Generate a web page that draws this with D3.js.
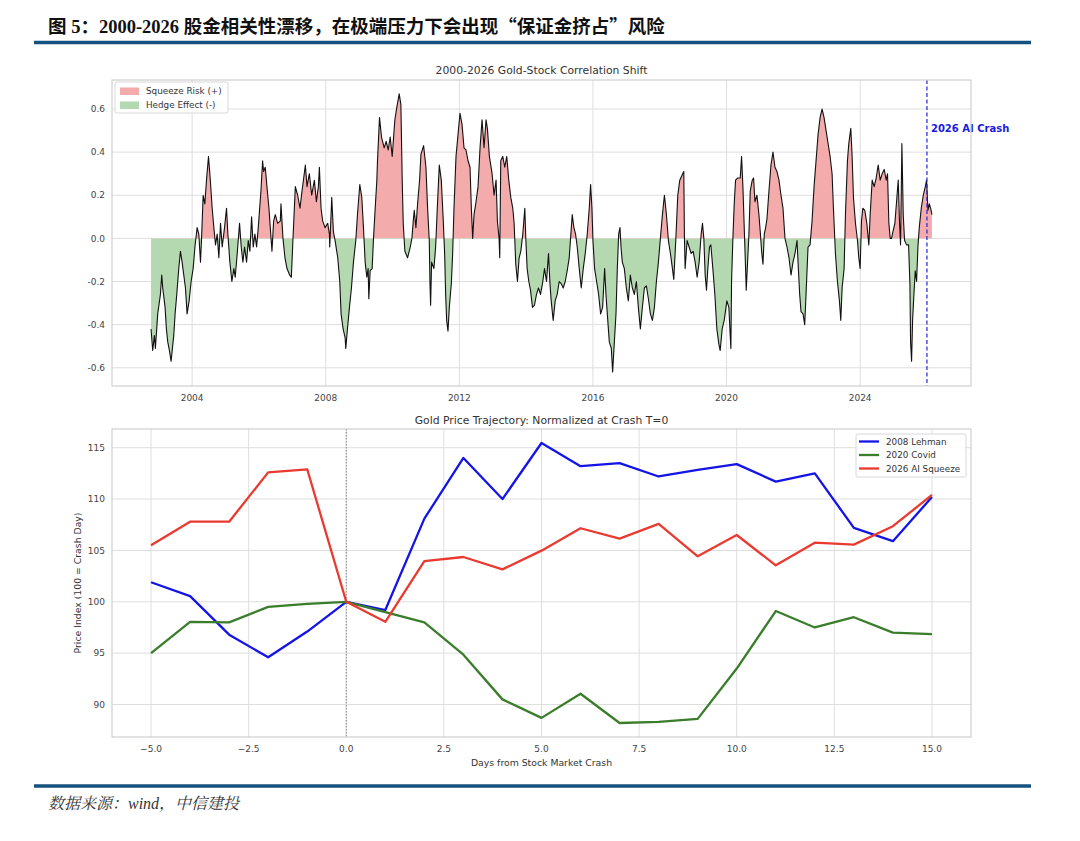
<!DOCTYPE html>
<html><head><meta charset="utf-8">
<script src="https://cdn.jsdelivr.net/npm/d3@7"></script>
<style>
body{margin:0;background:#fff}
svg text{font-family:"DejaVu Sans",sans-serif}
</style>
</head><body>
<svg id="c" width="1080" height="841"></svg>
<script>
// ---------------- DATA ----------------
const headerParts = ["图 5：2000-2026 股金相关性漂移，在极端压力下会出现", "“", "保证金挤占", "”", "风险"];
const sourceNote = "数据来源：wind，中信建投";
const topTitle = "2000-2026 Gold-Stock Correlation Shift";
const bottomTitle = "Gold Price Trajectory: Normalized at Crash T=0";
const topLegend = ["Squeeze Risk (+)", "Hedge Effect (-)"];
const crashYear = 2026.0;
const crashLabel = "2026 AI Crash";

// rolling gold-stock correlation: [decimal year, correlation]
const corrPoints = [
[2002.77,-0.42],[2002.82,-0.52],[2002.87,-0.45],[2002.90,-0.51],[2002.97,-0.35],[2003.05,-0.26],[2003.09,-0.17],[2003.12,-0.23],
[2003.19,-0.32],[2003.23,-0.42],[2003.27,-0.48],[2003.32,-0.52],[2003.37,-0.57],[2003.41,-0.51],[2003.45,-0.45],[2003.49,-0.35],
[2003.54,-0.26],[2003.60,-0.14],[2003.65,-0.06],[2003.70,-0.11],[2003.75,-0.17],[2003.80,-0.23],[2003.85,-0.35],[2003.91,-0.29],
[2003.97,-0.20],[2004.03,-0.14],[2004.09,-0.03],[2004.15,0.05],[2004.20,0.02],[2004.25,-0.11],[2004.28,-0.01],[2004.33,0.20],
[2004.38,0.16],[2004.43,0.27],[2004.49,0.38],[2004.54,0.28],[2004.60,0.14],[2004.65,0.05],[2004.70,-0.03],[2004.75,0.02],
[2004.80,-0.09],[2004.85,0.07],[2004.90,-0.04],[2004.97,0.05],[2005.03,0.14],[2005.07,0.02],[2005.13,-0.11],[2005.19,-0.20],
[2005.25,-0.14],[2005.29,-0.18],[2005.35,-0.07],[2005.42,0.07],[2005.47,-0.04],[2005.52,-0.11],[2005.57,-0.04],[2005.63,-0.11],
[2005.68,-0.01],[2005.73,-0.06],[2005.78,0.10],[2005.83,-0.04],[2005.88,0.02],[2005.93,-0.04],[2005.98,0.05],[2006.06,0.22],
[2006.11,0.36],[2006.14,0.31],[2006.19,0.33],[2006.24,0.24],[2006.30,0.14],[2006.34,0.05],[2006.39,-0.06],[2006.44,0.08],
[2006.49,0.11],[2006.56,0.07],[2006.64,0.08],[2006.66,0.16],[2006.72,0.00],[2006.78,-0.09],[2006.84,-0.14],[2006.92,-0.17],
[2006.97,-0.18],[2007.02,0.00],[2007.09,0.24],[2007.16,0.20],[2007.23,0.14],[2007.29,0.22],[2007.39,0.34],[2007.44,0.24],
[2007.51,0.30],[2007.58,0.20],[2007.66,0.27],[2007.72,0.17],[2007.78,0.24],[2007.81,0.33],[2007.86,0.14],[2007.91,0.08],
[2007.98,0.05],[2008.06,0.07],[2008.11,0.02],[2008.12,-0.04],[2008.18,0.19],[2008.23,0.03],[2008.28,-0.01],[2008.36,-0.09],
[2008.42,-0.20],[2008.46,-0.35],[2008.52,-0.42],[2008.58,-0.46],[2008.60,-0.51],[2008.65,-0.42],[2008.71,-0.32],[2008.77,-0.23],
[2008.83,-0.11],[2008.90,-0.01],[2008.95,0.11],[2009.02,0.25],[2009.08,0.19],[2009.13,0.05],[2009.18,-0.11],[2009.23,-0.18],
[2009.27,-0.14],[2009.29,-0.28],[2009.33,-0.15],[2009.39,-0.14],[2009.43,0.00],[2009.47,0.11],[2009.53,0.27],[2009.55,0.36],
[2009.61,0.56],[2009.67,0.47],[2009.75,0.42],[2009.81,0.45],[2009.87,0.41],[2009.93,0.47],[2009.99,0.38],[2010.07,0.55],
[2010.13,0.61],[2010.20,0.67],[2010.25,0.62],[2010.29,0.27],[2010.32,0.07],[2010.37,-0.06],[2010.45,-0.09],[2010.53,-0.04],
[2010.58,0.00],[2010.62,0.08],[2010.65,0.13],[2010.70,0.05],[2010.75,0.16],[2010.81,0.27],[2010.85,0.39],[2010.93,0.43],
[2011.00,0.33],[2011.05,0.14],[2011.10,-0.01],[2011.12,-0.20],[2011.14,-0.31],[2011.17,-0.11],[2011.24,-0.14],[2011.29,-0.04],
[2011.34,0.14],[2011.40,0.34],[2011.46,0.27],[2011.52,0.08],[2011.56,-0.07],[2011.59,-0.26],[2011.62,-0.38],[2011.66,-0.43],
[2011.70,-0.32],[2011.76,-0.21],[2011.80,-0.07],[2011.84,0.14],[2011.90,0.38],[2011.96,0.48],[2012.02,0.58],[2012.08,0.53],
[2012.14,0.42],[2012.20,0.41],[2012.26,0.36],[2012.32,0.33],[2012.36,0.14],[2012.40,0.00],[2012.44,0.11],[2012.50,0.17],
[2012.56,0.24],[2012.62,0.42],[2012.68,0.55],[2012.74,0.42],[2012.80,0.55],[2012.84,0.51],[2012.90,0.38],[2012.98,0.30],
[2013.04,0.20],[2013.10,0.27],[2013.14,0.08],[2013.19,0.00],[2013.21,-0.09],[2013.24,0.36],[2013.30,0.38],[2013.36,0.33],
[2013.42,0.38],[2013.48,0.27],[2013.54,0.19],[2013.60,0.14],[2013.64,0.07],[2013.69,-0.12],[2013.74,-0.20],[2013.79,-0.09],
[2013.84,-0.06],[2013.90,0.02],[2013.96,0.14],[2013.99,0.00],[2014.03,-0.14],[2014.08,-0.20],[2014.13,-0.24],[2014.19,-0.32],
[2014.25,-0.31],[2014.31,-0.26],[2014.37,-0.23],[2014.43,-0.26],[2014.49,-0.21],[2014.55,-0.14],[2014.61,-0.20],[2014.67,-0.07],
[2014.71,-0.20],[2014.75,-0.29],[2014.81,-0.38],[2014.87,-0.29],[2014.93,-0.26],[2014.99,-0.20],[2015.05,-0.21],[2015.11,-0.23],
[2015.17,-0.20],[2015.23,-0.15],[2015.29,-0.09],[2015.33,0.00],[2015.38,0.11],[2015.43,0.05],[2015.48,0.02],[2015.53,-0.04],
[2015.59,-0.14],[2015.65,-0.23],[2015.71,-0.14],[2015.77,-0.07],[2015.83,0.02],[2015.89,0.14],[2015.93,0.25],[2015.97,0.14],
[2016.00,-0.01],[2016.05,-0.14],[2016.11,-0.20],[2016.17,-0.26],[2016.23,-0.35],[2016.29,-0.32],[2016.35,-0.14],[2016.39,-0.26],
[2016.43,-0.35],[2016.49,-0.48],[2016.55,-0.51],[2016.59,-0.62],[2016.63,-0.51],[2016.69,-0.35],[2016.73,-0.14],[2016.77,0.02],
[2016.81,0.05],[2016.84,-0.04],[2016.88,-0.11],[2016.94,-0.14],[2017.00,-0.23],[2017.06,-0.29],[2017.12,-0.17],[2017.18,-0.23],
[2017.24,-0.26],[2017.30,-0.20],[2017.36,-0.32],[2017.42,-0.42],[2017.48,-0.32],[2017.54,-0.23],[2017.60,-0.22],[2017.66,-0.28],
[2017.72,-0.35],[2017.78,-0.38],[2017.84,-0.32],[2017.90,-0.20],[2017.96,-0.11],[2018.02,0.00],[2018.08,0.11],[2018.14,0.20],
[2018.20,0.11],[2018.26,-0.01],[2018.32,-0.07],[2018.38,-0.14],[2018.42,-0.19],[2018.48,-0.01],[2018.54,0.20],[2018.60,0.27],
[2018.66,0.29],[2018.72,0.31],[2018.74,0.00],[2018.76,-0.14],[2018.82,-0.01],[2018.88,-0.04],[2018.94,-0.07],[2019.00,-0.06],
[2019.06,-0.11],[2019.12,-0.18],[2019.18,-0.11],[2019.24,0.02],[2019.28,0.07],[2019.32,0.00],[2019.36,-0.17],[2019.40,-0.24],
[2019.44,-0.14],[2019.49,-0.04],[2019.53,-0.03],[2019.59,-0.14],[2019.65,-0.26],[2019.71,-0.42],[2019.77,-0.49],[2019.81,-0.52],
[2019.87,-0.42],[2019.93,-0.38],[2020.01,-0.29],[2020.07,-0.32],[2020.11,-0.45],[2020.13,-0.51],[2020.15,-0.20],[2020.19,0.00],
[2020.23,0.16],[2020.27,0.27],[2020.33,0.28],[2020.41,0.28],[2020.45,0.38],[2020.49,0.24],[2020.53,0.05],[2020.57,-0.14],
[2020.59,-0.24],[2020.63,-0.11],[2020.67,0.02],[2020.71,0.22],[2020.77,0.27],[2020.81,0.28],[2020.85,0.17],[2020.91,0.20],
[2020.97,0.11],[2021.01,0.03],[2021.05,-0.06],[2021.09,-0.12],[2021.13,0.02],[2021.17,0.05],[2021.21,0.09],[2021.27,0.22],
[2021.33,0.34],[2021.39,0.40],[2021.45,0.33],[2021.51,0.31],[2021.57,0.27],[2021.63,0.20],[2021.69,0.14],[2021.75,0.00],
[2021.81,-0.04],[2021.87,-0.09],[2021.93,-0.17],[2021.99,-0.11],[2022.05,-0.07],[2022.11,-0.01],[2022.15,-0.14],[2022.19,-0.26],
[2022.23,-0.34],[2022.29,-0.35],[2022.34,-0.40],[2022.38,-0.26],[2022.44,-0.04],[2022.50,-0.03],[2022.56,0.08],[2022.62,0.24],
[2022.68,0.36],[2022.74,0.48],[2022.80,0.56],[2022.86,0.60],[2022.92,0.56],[2022.98,0.50],[2023.04,0.44],[2023.10,0.38],
[2023.16,0.30],[2023.20,0.14],[2023.26,-0.07],[2023.32,-0.20],[2023.38,-0.29],[2023.42,-0.38],[2023.46,-0.23],[2023.52,-0.14],
[2023.56,0.11],[2023.62,0.36],[2023.66,0.44],[2023.72,0.51],[2023.76,0.38],[2023.80,0.19],[2023.86,0.07],[2023.92,-0.01],
[2023.96,-0.09],[2024.00,-0.14],[2024.04,0.08],[2024.08,0.14],[2024.14,0.13],[2024.20,0.07],[2024.26,-0.03],[2024.30,0.11],
[2024.36,0.27],[2024.42,0.24],[2024.48,0.28],[2024.54,0.34],[2024.60,0.27],[2024.66,0.30],[2024.72,0.32],[2024.78,0.27],
[2024.82,0.30],[2024.86,0.07],[2024.90,0.00],[2024.94,0.00],[2024.98,0.03],[2025.04,0.07],[2025.10,0.19],[2025.14,0.27],
[2025.18,0.07],[2025.21,-0.03],[2025.25,0.44],[2025.29,0.11],[2025.33,-0.01],[2025.39,-0.03],[2025.45,-0.03],[2025.49,-0.21],
[2025.51,-0.48],[2025.54,-0.57],[2025.57,-0.38],[2025.61,-0.26],[2025.65,-0.15],[2025.69,-0.20],[2025.73,-0.04],[2025.77,0.05],
[2025.83,0.14],[2025.89,0.20],[2025.95,0.24],[2025.99,0.27],[2026.03,0.13],[2026.07,0.16],[2026.11,0.14],[2026.15,0.11]
];
const corrYTicks = [-0.6, -0.4, -0.2, 0.0, 0.2, 0.4, 0.6];
const yearTicks = [2004, 2008, 2012, 2016, 2020, 2024];

// gold price trajectories around crash day (T=0 -> 100)
const dayOffsets = [-5,-4,-3,-2,-1,0,1,2,3,4,5,6,7,8,9,10,11,12,13,14,15];
const lehman2008 = [101.9,100.55,96.8,94.6,97.1,100,99.2,108.1,114.0,110.0,115.46,113.2,113.5,112.2,112.85,113.4,111.7,112.5,107.2,105.9,110.2];
const covid2020  = [95.0,98.05,98.0,99.5,99.8,100,99.0,98.0,94.85,90.5,88.7,91.05,88.2,88.3,88.6,93.5,99.1,97.5,98.5,97.0,96.85];
const aiSqueeze2026 = [105.5,107.8,107.8,112.6,112.9,100,98.05,103.97,104.36,103.16,104.98,107.16,106.15,107.58,104.43,106.5,103.55,105.76,105.57,107.36,110.4];
const seriesNames = ["2008 Lehman", "2020 Covid", "2026 AI Squeeze"];
const dayTicks = [-5, -2.5, 0, 2.5, 5, 7.5, 10, 12.5, 15];
const priceTicks = [90, 95, 100, 105, 110, 115];
const xLabel = "Days from Stock Market Crash";
const yLabel = "Price Index (100 = Crash Day)";

// ---------------- DRAW ----------------
const svg = d3.select("#c");
const C = {grid:"#dedede", frame:"#cfcfcf", tick:"#444", text:"#333",
           red:"#f4abab", green:"#b4d8b0", rule:"#16527f",
           lBlue:"#1414e6", lGreen:"#3a7d2a", lRed:"#ea3a30"};

// header
const hdr = svg.append("text").attr("x",48).attr("y",33)
  .style("font-family","'Liberation Serif','Noto Sans CJK SC',serif").style("font-weight","bold")
  .style("font-size","18.5px").attr("fill","#111");
headerParts.forEach((p,i)=>{
  const t = hdr.append("tspan").text(p);
  if (i===1 || i===3) t.style("font-family","'Noto Sans CJK SC'");
});
svg.append("line").attr("x1",34).attr("x2",1031).attr("y1",42.5).attr("y2",42.5)
  .attr("stroke",C.rule).attr("stroke-width",3.5);
svg.append("line").attr("x1",34).attr("x2",1031).attr("y1",786).attr("y2",786)
  .attr("stroke",C.rule).attr("stroke-width",3.5);
svg.append("text").attr("x",48).attr("y",809)
  .style("font-family","'Liberation Serif','Noto Serif CJK SC','Noto Sans CJK SC',serif").style("font-style","italic")
  .style("font-size","16px").attr("fill","#333").text(sourceNote);

function padded(ext){const r=ext[1]-ext[0];return [ext[0]-0.05*r, ext[1]+0.05*r];}

function frameAndGrid(g, x, y, xt, yt, L, R, T, B, xfmt, yfmt){
  g.append("g").selectAll("line").data(xt).join("line")
    .attr("x1",d=>x(d)).attr("x2",d=>x(d)).attr("y1",T).attr("y2",B)
    .attr("stroke",C.grid).attr("stroke-width",1);
  g.append("g").selectAll("line").data(yt).join("line")
    .attr("x1",L).attr("x2",R).attr("y1",d=>y(d)).attr("y2",d=>y(d))
    .attr("stroke",C.grid).attr("stroke-width",1);
  g.append("g").selectAll("text").data(xt).join("text")
    .attr("x",d=>x(d)).attr("y",B+14.5).attr("text-anchor","middle")
    .attr("fill",C.tick).style("font-size","9px").text(xfmt);
  g.append("g").selectAll("text").data(yt).join("text")
    .attr("x",L-7).attr("y",d=>y(d)).attr("dy","0.35em").attr("text-anchor","end")
    .attr("fill",C.tick).style("font-size","9px").text(yfmt);
}
function frame(g,L,R,T,B){
  g.append("rect").attr("x",L).attr("y",T).attr("width",R-L).attr("height",B-T)
    .attr("fill","none").attr("stroke",C.frame).attr("stroke-width",1.2);
}

// ---- top chart ----
const tL=112,tR=971,tT=80,tB=386;
const xT = d3.scaleLinear().domain(padded(d3.extent(corrPoints,d=>d[0]))).range([tL,tR]);
const yT = d3.scaleLinear().domain(padded(d3.extent(corrPoints,d=>d[1]))).range([tB,tT]);
const gT = svg.append("g");
frameAndGrid(gT,xT,yT,yearTicks,corrYTicks,tL,tR,tT,tB,d=>d,d=>d.toFixed(1));

const defs = svg.append("defs");
defs.append("clipPath").attr("id","posClip").append("rect")
  .attr("x",tL).attr("y",tT).attr("width",tR-tL).attr("height",yT(0)-tT);
defs.append("clipPath").attr("id","negClip").append("rect")
  .attr("x",tL).attr("y",yT(0)).attr("width",tR-tL).attr("height",tB-yT(0));
const area0 = d3.area().x(d=>xT(d[0])).y0(yT(0)).y1(d=>yT(d[1]));
gT.append("path").datum(corrPoints).attr("d",area0).attr("fill",C.red).attr("clip-path","url(#posClip)");
gT.append("path").datum(corrPoints).attr("d",area0).attr("fill",C.green).attr("clip-path","url(#negClip)");
gT.append("path").datum(corrPoints)
  .attr("d",d3.line().x(d=>xT(d[0])).y(d=>yT(d[1])))
  .attr("fill","none").attr("stroke","#111").attr("stroke-width",1.1).attr("stroke-linejoin","round");
gT.append("line").attr("x1",xT(crashYear)).attr("x2",xT(crashYear)).attr("y1",tT).attr("y2",tB)
  .attr("stroke","#2424e0").attr("stroke-width",1.2).attr("stroke-dasharray","4,2.5");
gT.append("text").attr("x",xT(crashYear)+4).attr("y",yT(0.5)).attr("dy","0.1em")
  .attr("fill","#1a1ae0").style("font-size","10px").style("font-weight","bold").text(crashLabel);
frame(gT,tL,tR,tT,tB);
gT.append("text").attr("x",(tL+tR)/2).attr("y",tT-6).attr("text-anchor","middle")
  .attr("fill",C.text).style("font-size","10.8px").text(topTitle);
// legend top
const lgT = gT.append("g");
lgT.append("rect").attr("x",115).attr("y",82).attr("width",113).attr("height",31).attr("rx",2)
  .attr("fill","#fff").attr("fill-opacity",0.85).attr("stroke","#d8d8d8");
[C.red,C.green].forEach((c,i)=>{
  lgT.append("rect").attr("x",120).attr("y",87.5+i*14).attr("width",19).attr("height",7.5).attr("fill",c);
  lgT.append("text").attr("x",146).attr("y",91.3+i*14).attr("dy","0.35em").attr("fill",C.text)
    .style("font-size","8.8px").text(topLegend[i]);
});

// ---- bottom chart ----
const bL=112,bR=971,bT=429,bB=737;
const allPrices = lehman2008.concat(covid2020, aiSqueeze2026);
const xB = d3.scaleLinear().domain(padded(d3.extent(dayOffsets))).range([bL,bR]);
const yB = d3.scaleLinear().domain(padded(d3.extent(allPrices))).range([bB,bT]);
const gB = svg.append("g");
frameAndGrid(gB,xB,yB,dayTicks,priceTicks,bL,bR,bT,bB,d=>d.toFixed(1).replace("-","−"),d=>d);
gB.append("line").attr("x1",xB(0)).attr("x2",xB(0)).attr("y1",bT).attr("y2",bB)
  .attr("stroke","#888").attr("stroke-width",1).attr("stroke-dasharray","1.5,1.5");
const seriesVals = [lehman2008, covid2020, aiSqueeze2026];
const seriesCols = [C.lBlue, C.lGreen, C.lRed];
const lineB = d3.line().x((d,i)=>xB(dayOffsets[i])).y(d=>yB(d));
seriesVals.forEach((s,i)=>{
  gB.append("path").datum(s).attr("d",lineB).attr("fill","none")
    .attr("stroke",seriesCols[i]).attr("stroke-width",2.3).attr("stroke-linejoin","round");
});
frame(gB,bL,bR,bT,bB);
gB.append("text").attr("x",(bL+bR)/2).attr("y",bT-5).attr("text-anchor","middle")
  .attr("fill",C.text).style("font-size","10.8px").text(bottomTitle);
gB.append("text").attr("x",(bL+bR)/2).attr("y",766).attr("text-anchor","middle")
  .attr("fill",C.text).style("font-size","9.3px").text(xLabel);
gB.append("text").attr("transform","translate(81,583) rotate(-90)").attr("text-anchor","middle")
  .attr("fill",C.text).style("font-size","9.3px").text(yLabel);
const lgB = gB.append("g");
lgB.append("rect").attr("x",856).attr("y",434).attr("width",110).attr("height",43).attr("rx",2)
  .attr("fill","#fff").attr("fill-opacity",0.85).attr("stroke","#d8d8d8");
seriesNames.forEach((n,i)=>{
  lgB.append("line").attr("x1",859).attr("x2",879).attr("y1",441.5+i*13.5).attr("y2",441.5+i*13.5)
    .attr("stroke",seriesCols[i]).attr("stroke-width",2.3);
  lgB.append("text").attr("x",886).attr("y",441.5+i*13.5).attr("dy","0.35em").attr("fill",C.text)
    .style("font-size","8.8px").text(n);
});
</script>
</body></html>
